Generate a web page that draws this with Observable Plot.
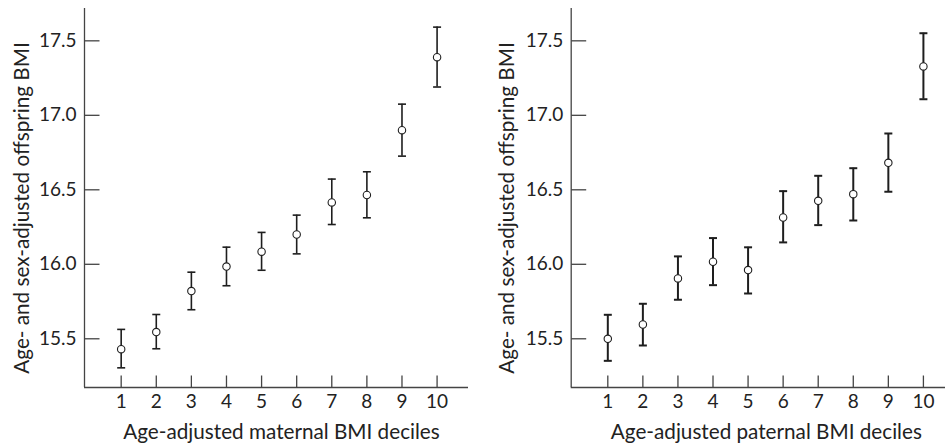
<!DOCTYPE html>
<html>
<head>
<meta charset="utf-8">
<script src="https://cdn.jsdelivr.net/npm/d3@7"></script>
<script src="https://cdn.jsdelivr.net/npm/@observablehq/plot@0.6"></script>
<style>
  html, body { margin: 0; padding: 0; background: #fff; }
  #wrap { display: flex; width: 945px; height: 448px; }
  svg { display: block; }
</style>
</head>
<body>
<div id="wrap"></div>
<script>
// ---- data ----
const deciles = [1, 2, 3, 4, 5, 6, 7, 8, 9, 10];

const maternalMean = [15.43, 15.545, 15.82, 15.985, 16.085, 16.20, 16.415, 16.465, 16.90, 17.39];
const maternalLow  = [15.305, 15.433, 15.695, 15.856, 15.96, 16.07, 16.267, 16.312, 16.726, 17.19];
const maternalHigh = [15.563, 15.663, 15.947, 16.115, 16.214, 16.33, 16.572, 16.621, 17.075, 17.592];

const paternalMean = [15.50, 15.596, 15.905, 16.017, 15.961, 16.314, 16.426, 16.471, 16.681, 17.328];
const paternalLow  = [15.352, 15.455, 15.762, 15.86, 15.804, 16.147, 16.263, 16.294, 16.487, 17.108];
const paternalHigh = [15.661, 15.735, 16.053, 16.176, 16.114, 16.491, 16.594, 16.645, 16.878, 17.551];

const yTicks = [15.5, 16.0, 16.5, 17.0, 17.5];
const yTickLabels = ["15.5", "16.0", "16.5", "17.0", "17.5"];
const xTickLabels = ["1", "2", "3", "4", "5", "6", "7", "8", "9", "10"];

const yTitle = "Age- and sex-adjusted offspring BMI";
const maternalTitle = "Age-adjusted maternal BMI deciles";
const paternalTitle = "Age-adjusted paternal BMI deciles";

// ---- custom symbols ----
const capSymbol = {draw(ctx, size) { const r = Math.sqrt(size / Math.PI); ctx.moveTo(-r, 0); ctx.lineTo(r, 0); }};
const tickRight = {draw(ctx, size) { const r = Math.sqrt(size / Math.PI); ctx.moveTo(0, 0); ctx.lineTo(r, 0); }};
const tickUp = {draw(ctx, size) { const r = Math.sqrt(size / Math.PI); ctx.moveTo(0, 0); ctx.lineTo(0, -r); }};

const ink = "#1e1e1e";
const axisInk = "#444";
const font = "Lato, 'Open Sans', sans-serif";

function panel({means, lows, highs, xTitle, width, marginLeft, marginRight, xDomain, sw, titleDx, yTitleDx}) {
  const rows = deciles.map((d, i) => ({x: d, m: means[i], lo: lows[i], hi: highs[i]}));
  const yDomain = [15.173, 17.717];
  return Plot.plot({
    width, height: 448,
    marginLeft, marginRight, marginTop: 8, marginBottom: 61,
    style: {fontFamily: font, fontSize: "19px", color: "#222", background: "#fff"},
    x: {domain: xDomain, axis: null},
    y: {domain: yDomain, axis: null},
    marks: [
      // axes lines
      Plot.ruleX([xDomain[0]], {stroke: axisInk, strokeWidth: 1.3}),
      Plot.ruleY([yDomain[0]], {stroke: axisInk, strokeWidth: 1.3}),
      // inward ticks
      Plot.dot(yTicks, {y: d => d, frameAnchor: "left", symbol: tickRight, r: 15, stroke: axisInk, strokeWidth: 1.3, fill: "none"}),
      Plot.dot(deciles, {x: d => d, frameAnchor: "bottom", symbol: tickUp, r: 12, stroke: axisInk, strokeWidth: 1.3, fill: "none"}),
      // tick labels
      Plot.text(yTicks, {y: d => d, text: (d, i) => yTickLabels[i], frameAnchor: "left", textAnchor: "end", dx: -8, fill: "#222"}),
      Plot.text(deciles, {x: d => d, text: (d, i) => xTickLabels[i], frameAnchor: "bottom", lineAnchor: "top", dy: 7, fill: "#222"}),
      // axis titles
      Plot.text([xTitle], {text: d => d, frameAnchor: "bottom", textAnchor: "middle", lineAnchor: "middle", dy: 45, dx: titleDx, fill: "#222", fontSize: 20.7}),
      Plot.text([yTitle], {text: d => d, frameAnchor: "left", textAnchor: "middle", rotate: -90, lineAnchor: "middle", dx: yTitleDx, dy: 10, fill: "#222", fontSize: 20.7}),
      // error bars
      Plot.ruleX(rows, {x: "x", y1: "lo", y2: "hi", stroke: ink, strokeWidth: sw}),
      Plot.dot(rows, {x: "x", y: "lo", symbol: capSymbol, r: 4, stroke: ink, strokeWidth: sw, fill: "none"}),
      Plot.dot(rows, {x: "x", y: "hi", symbol: capSymbol, r: 4, stroke: ink, strokeWidth: sw, fill: "none"}),
      Plot.dot(rows, {x: "x", y: "m", r: 3.7, fill: "#fff", stroke: ink, strokeWidth: 1.1})
    ]
  });
}

const wrap = document.getElementById("wrap");
wrap.append(panel({
  means: maternalMean, lows: maternalLow, highs: maternalHigh, xTitle: maternalTitle,
  width: 475, marginLeft: 84, marginRight: 7, xDomain: [-0.045, 10.895], sw: 1.6,
  titleDx: 5, yTitleDx: -62
}));
wrap.append(panel({
  means: paternalMean, lows: paternalLow, highs: paternalHigh, xTitle: paternalTitle,
  width: 470, marginLeft: 95.7, marginRight: 0, xDomain: [-0.044, 10.63], sw: 2,
  titleDx: 8, yTitleDx: -64
}));
</script>
</body>
</html>
